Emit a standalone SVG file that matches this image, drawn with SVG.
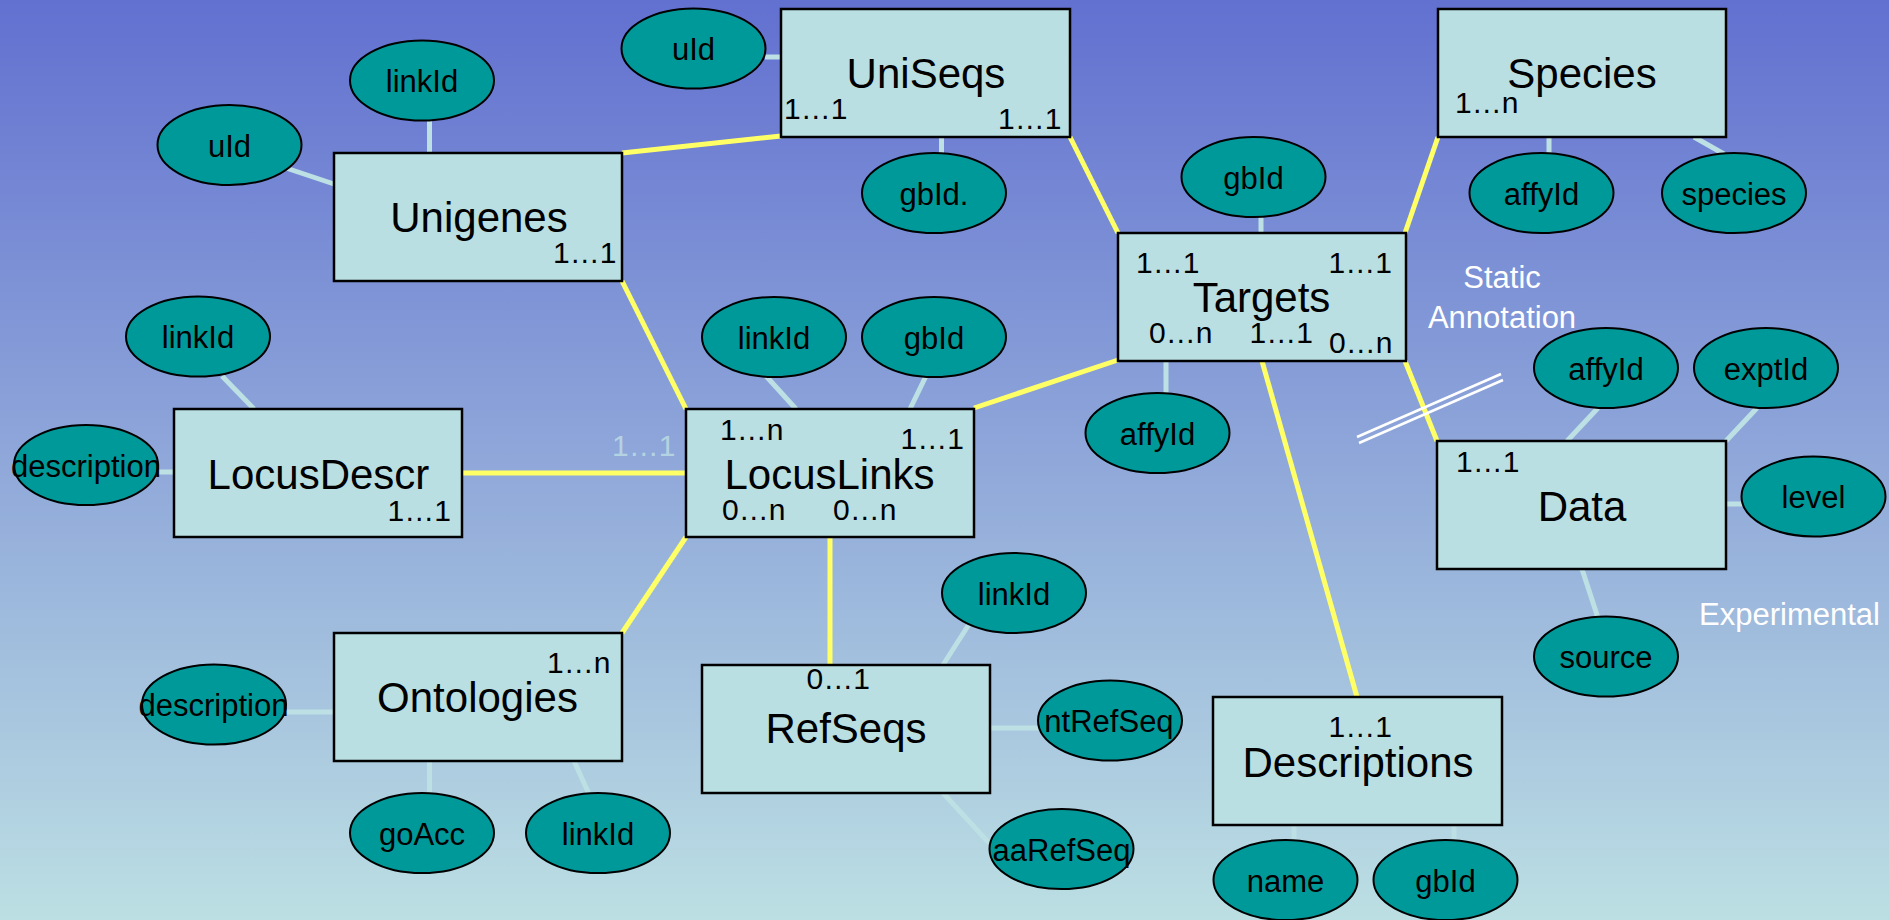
<svg xmlns="http://www.w3.org/2000/svg" width="1889" height="920" viewBox="0 0 1889 920">
  <defs>
    <linearGradient id="bg" x1="0" y1="0" x2="0" y2="1">
      <stop offset="0" stop-color="#6270D0"/>
      <stop offset="1" stop-color="#BCDFE3"/>
    </linearGradient>
    <style>
      text { font-family: "Liberation Sans", Arial, sans-serif; fill: #000; }
      .entity rect { fill: #BADFE2; stroke: #000; stroke-width: 2.5; }
      .attr ellipse { fill: #009999; stroke: #000; stroke-width: 2; }
      .name { font-size: 42px; text-anchor: middle; }
      .card { font-size: 30px; }
      .lbl { font-size: 31px; text-anchor: middle; }
      .rel { stroke: #FFFF66; stroke-width: 5; fill: none; }
      .att { stroke: #BCE0E4; stroke-width: 5; fill: none; }
      .note { font-size: 31px; fill: #FFFFFF; }
      .faded { fill: #B4D3E2; }
    </style>
  </defs>

  <rect x="0" y="0" width="1889" height="920" fill="url(#bg)"/>

  <!-- connectors: relationships (yellow) and attribute links (light) -->
  <g id="connectors">
    <line class="rel" x1="622" y1="153" x2="781" y2="136"/>
    <line class="rel" x1="1070" y1="137" x2="1118" y2="233"/>
    <line class="rel" x1="622" y1="281" x2="686" y2="409"/>
    <line class="rel" x1="462" y1="473" x2="686" y2="473"/>
    <line class="rel" x1="974" y1="408" x2="1118" y2="360"/>
    <line class="rel" x1="686" y1="537" x2="622" y2="633"/>
    <line class="rel" x1="830" y1="537" x2="830" y2="665"/>
    <line class="rel" x1="1405" y1="233" x2="1438" y2="137"/>
    <line class="rel" x1="1262" y1="361" x2="1357" y2="697"/>
    <line class="rel" x1="1405" y1="361" x2="1437" y2="441"/>

    <line class="att" x1="286" y1="168" x2="334" y2="184"/>
    <line class="att" x1="429.5" y1="120" x2="429.5" y2="153"/>
    <line class="att" x1="765" y1="57" x2="781" y2="57"/>
    <line class="att" x1="941.5" y1="137" x2="941.5" y2="153"/>
    <line class="att" x1="1261" y1="216" x2="1261" y2="233"/>
    <line class="att" x1="1166" y1="361" x2="1166" y2="394"/>
    <line class="att" x1="1549" y1="137" x2="1549" y2="153"/>
    <line class="att" x1="1694" y1="137" x2="1724" y2="154"/>
    <line class="att" x1="766" y1="376" x2="796" y2="409"/>
    <line class="att" x1="926" y1="376" x2="910" y2="409"/>
    <line class="att" x1="222" y1="376" x2="254" y2="409"/>
    <line class="att" x1="157" y1="472" x2="174" y2="472"/>
    <line class="att" x1="285" y1="712" x2="334" y2="712"/>
    <line class="att" x1="429.5" y1="761" x2="429.5" y2="793"/>
    <line class="att" x1="574" y1="761" x2="589" y2="794"/>
    <line class="att" x1="973" y1="618" x2="943" y2="665"/>
    <line class="att" x1="990" y1="728" x2="1039" y2="728"/>
    <line class="att" x1="943" y1="793" x2="989" y2="843"/>
    <line class="att" x1="1598" y1="408" x2="1567" y2="441"/>
    <line class="att" x1="1757" y1="408" x2="1726" y2="441"/>
    <line class="att" x1="1726" y1="504" x2="1743" y2="504"/>
    <line class="att" x1="1582" y1="569" x2="1598" y2="618"/>
    <line class="att" x1="1294" y1="825" x2="1294" y2="841"/>
    <line class="att" x1="1454" y1="825" x2="1454" y2="841"/>
  </g>

  <!-- double break mark across the Targets/Data link -->
  <g id="break-mark" stroke="#FFFFFF" stroke-width="2.5">
    <line x1="1357" y1="437" x2="1501" y2="374"/>
    <line x1="1359" y1="443" x2="1503" y2="380"/>
  </g>

  <!-- entities -->
  <g id="unigenes" class="entity">
    <rect x="334" y="153" width="288" height="128"/>
    <text class="name" x="479" y="232">Unigenes</text>
    <text class="card" x="553" y="263">1…1</text>
  </g>
  <g id="uniseqs" class="entity">
    <rect x="781" y="9" width="289" height="128"/>
    <text class="name" x="926" y="88">UniSeqs</text>
    <text class="card" x="784" y="119">1…1</text>
    <text class="card" x="998" y="129">1…1</text>
  </g>
  <g id="species" class="entity">
    <rect x="1438" y="9" width="288" height="128"/>
    <text class="name" x="1582" y="88">Species</text>
    <text class="card" x="1455" y="113">1…n</text>
  </g>
  <g id="targets" class="entity">
    <rect x="1118" y="233" width="288" height="128"/>
    <text class="card" x="1136" y="273">1…1</text>
    <text class="card" x="1328.5" y="273">1…1</text>
    <text class="name" x="1261.5" y="312">Targets</text>
    <text class="card" x="1149" y="343">0…n</text>
    <text class="card" x="1249.5" y="343">1…1</text>
    <text class="card" x="1329" y="353">0…n</text>
  </g>
  <g id="locusdescr" class="entity">
    <rect x="174" y="409" width="288" height="128"/>
    <text class="name" x="318.5" y="489">LocusDescr</text>
    <text class="card" x="387.5" y="521">1…1</text>
  </g>
  <g id="locuslinks" class="entity">
    <rect x="686" y="409" width="288" height="128"/>
    <text class="card" x="720" y="440">1…n</text>
    <text class="card" x="900.5" y="449">1…1</text>
    <text class="name" x="829.5" y="488.5">LocusLinks</text>
    <text class="card" x="722" y="519.5">0…n</text>
    <text class="card" x="833" y="519.5">0…n</text>
    <text class="card faded" x="612" y="455.5">1…1</text>
  </g>
  <g id="ontologies" class="entity">
    <rect x="334" y="633" width="288" height="128"/>
    <text class="card" x="547" y="673">1…n</text>
    <text class="name" x="477.5" y="712">Ontologies</text>
  </g>
  <g id="refseqs" class="entity">
    <rect x="702" y="665" width="288" height="128"/>
    <text class="card" x="806.5" y="689">0…1</text>
    <text class="name" x="846" y="743">RefSeqs</text>
  </g>
  <g id="data" class="entity">
    <rect x="1437" y="441" width="289" height="128"/>
    <text class="card" x="1456" y="471.5">1…1</text>
    <text class="name" x="1582" y="520.5">Data</text>
  </g>
  <g id="descriptions" class="entity">
    <rect x="1213" y="697" width="289" height="128"/>
    <text class="card" x="1328.5" y="736.5">1…1</text>
    <text class="name" x="1358" y="776.5">Descriptions</text>
  </g>

  <!-- attributes -->
  <g id="unigenes-uid" class="attr"><ellipse cx="229.5" cy="145" rx="72" ry="40"/><text class="lbl" x="229.5" y="156.5">uId</text></g>
  <g id="unigenes-linkid" class="attr"><ellipse cx="422" cy="80.5" rx="72" ry="40"/><text class="lbl" x="422" y="92">linkId</text></g>
  <g id="uniseqs-uid" class="attr"><ellipse cx="693.5" cy="48.5" rx="72" ry="40"/><text class="lbl" x="693.5" y="60">uId</text></g>
  <g id="uniseqs-gbid" class="attr"><ellipse cx="934" cy="193" rx="72" ry="40"/><text class="lbl" x="934" y="204.5">gbId.</text></g>
  <g id="targets-gbid" class="attr"><ellipse cx="1253.5" cy="177" rx="72" ry="40"/><text class="lbl" x="1253.5" y="188.5">gbId</text></g>
  <g id="targets-affyid" class="attr"><ellipse cx="1157.5" cy="433" rx="72" ry="40"/><text class="lbl" x="1157.5" y="444.5">affyId</text></g>
  <g id="species-affyid" class="attr"><ellipse cx="1541.5" cy="193" rx="72" ry="40"/><text class="lbl" x="1541.5" y="204.5">affyId</text></g>
  <g id="species-species" class="attr"><ellipse cx="1734" cy="193" rx="72" ry="40"/><text class="lbl" x="1734" y="204.5">species</text></g>
  <g id="locuslinks-linkid" class="attr"><ellipse cx="774" cy="337" rx="72" ry="40"/><text class="lbl" x="774" y="348.5">linkId</text></g>
  <g id="locuslinks-gbid" class="attr"><ellipse cx="934" cy="337" rx="72" ry="40"/><text class="lbl" x="934" y="348.5">gbId</text></g>
  <g id="locusdescr-linkid" class="attr"><ellipse cx="198" cy="336.5" rx="72" ry="40"/><text class="lbl" x="198" y="348">linkId</text></g>
  <g id="locusdescr-description" class="attr"><ellipse cx="86" cy="465" rx="72" ry="40"/><text class="lbl" x="86" y="476.5">description</text></g>
  <g id="ontologies-description" class="attr"><ellipse cx="214" cy="704.5" rx="72" ry="40"/><text class="lbl" x="213.5" y="716">description</text></g>
  <g id="ontologies-goacc" class="attr"><ellipse cx="422" cy="833" rx="72" ry="40"/><text class="lbl" x="422" y="844.5">goAcc</text></g>
  <g id="ontologies-linkid" class="attr"><ellipse cx="598" cy="833" rx="72" ry="40"/><text class="lbl" x="598" y="844.5">linkId</text></g>
  <g id="refseqs-linkid" class="attr"><ellipse cx="1014" cy="593" rx="72" ry="40"/><text class="lbl" x="1014" y="604.5">linkId</text></g>
  <g id="refseqs-ntrefseq" class="attr"><ellipse cx="1110" cy="720.5" rx="72" ry="40"/><text class="lbl" x="1109" y="732">ntRefSeq</text></g>
  <g id="refseqs-aarefseq" class="attr"><ellipse cx="1061.5" cy="849" rx="72" ry="40"/><text class="lbl" x="1061.5" y="860.5">aaRefSeq</text></g>
  <g id="data-affyid" class="attr"><ellipse cx="1606" cy="368" rx="72" ry="40"/><text class="lbl" x="1606" y="379.5">affyId</text></g>
  <g id="data-exptid" class="attr"><ellipse cx="1766" cy="368" rx="72" ry="40"/><text class="lbl" x="1766" y="379.5">exptId</text></g>
  <g id="data-level" class="attr"><ellipse cx="1813.5" cy="496.5" rx="72" ry="40"/><text class="lbl" x="1813.5" y="508">level</text></g>
  <g id="data-source" class="attr"><ellipse cx="1606" cy="656.5" rx="72" ry="40"/><text class="lbl" x="1606" y="668">source</text></g>
  <g id="descriptions-name" class="attr"><ellipse cx="1285.5" cy="880" rx="72" ry="40"/><text class="lbl" x="1285.5" y="891.5">name</text></g>
  <g id="descriptions-gbid" class="attr"><ellipse cx="1445.5" cy="880" rx="72" ry="40"/><text class="lbl" x="1445.5" y="891.5">gbId</text></g>

  <!-- region captions -->
  <g id="captions">
    <text class="note" x="1502" y="288" text-anchor="middle">Static</text>
    <text class="note" x="1502" y="328" text-anchor="middle">Annotation</text>
    <text class="note" x="1789.5" y="625" text-anchor="middle">Experimental</text>
  </g>
</svg>
